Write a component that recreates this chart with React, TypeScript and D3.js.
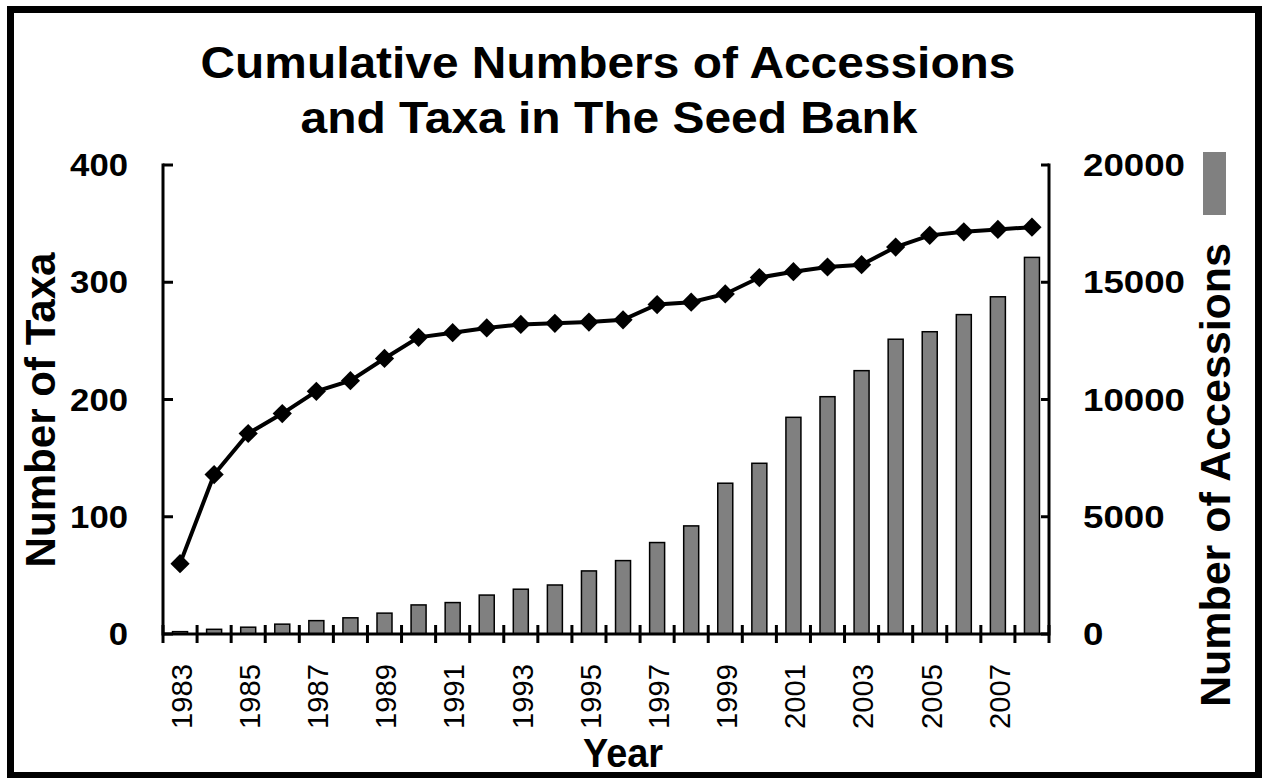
import React from "react";
import * as d3 from "d3";

const years = [
  "1983", "1984", "1985", "1986", "1987", "1988", "1989", "1990", "1991",
  "1992", "1993", "1994", "1995", "1996", "1997", "1998", "1999", "2000",
  "2001", "2002", "2003", "2004", "2005", "2006", "2007", "2008",
];
const taxa = [
  60, 136, 171, 188, 207, 216, 235, 253, 257, 261, 264, 265, 266, 268, 281,
  283, 290, 304, 309, 313, 315, 330, 340, 343, 345, 347,
];
const accessions = [
  100, 200, 290, 420, 570, 690, 890, 1240, 1340, 1660, 1910, 2090, 2690, 3130,
  3900, 4610, 6430, 7280, 9240, 10120, 11230, 12570, 12890, 13620, 14380, 16060,
];
const xTickLabels = [
  "1983", "1985", "1987", "1989", "1991", "1993", "1995", "1997", "1999",
  "2001", "2003", "2005", "2007",
];
const leftTicks = [0, 100, 200, 300, 400];
const rightTicks = [0, 5000, 10000, 15000, 20000];
const titleLines = ["Cumulative Numbers of Accessions", "and Taxa in The Seed Bank"];

const W = 1262;
const H = 778;
const plotLeft = 163;
const plotRight = 1049;
const plotTop = 165;
const plotBottom = 634;
const FONT = "'Liberation Sans', Arial, Helvetica, sans-serif";

export default function App() {
  const x = d3.scaleBand<string>().domain(years).range([plotLeft, plotRight]).padding(0);
  const yL = d3.scaleLinear().domain([0, 400]).range([plotBottom, plotTop]);
  const yR = d3.scaleLinear().domain([0, 20000]).range([plotBottom, plotTop]);
  const bw = x.bandwidth();
  const barW = 15;
  const cx = (i: number) => (x(years[i]) as number) + bw / 2;

  const linePath = d3
    .line<number>()
    .x((_, i) => cx(i))
    .y((d) => yL(d))(taxa) as string;
  const diamond = d3.symbol().type(d3.symbolSquare).size(185)() as string;

  const boundaries = years.map((y) => x(y) as number).concat([plotRight]);

  return (
    <svg
      width={W}
      height={H}
      style={{ position: "absolute", left: 0, top: 0, display: "block", background: "#fff" }}
      fontFamily={FONT}
    >
      <rect x={0} y={0} width={W} height={H} fill="#fff" />
      {/* outer frame */}
      <rect x={10.5} y={9.5} width={1248} height={766} fill="none" stroke="#000" strokeWidth={7} />

      {/* title */}
      <text x={608} y={78} textAnchor="middle" fontSize={45} fontWeight="bold" textLength={815} lengthAdjust="spacingAndGlyphs">
        {titleLines[0]}
      </text>
      <text x={609} y={133} textAnchor="middle" fontSize={45} fontWeight="bold" textLength={617} lengthAdjust="spacingAndGlyphs">
        {titleLines[1]}
      </text>

      {/* bars */}
      {accessions.map((v, i) => (
        <rect
          key={"b" + i}
          x={cx(i) - barW / 2}
          y={yR(v)}
          width={barW}
          height={plotBottom - yR(v)}
          fill="#808080"
          stroke="#000"
          strokeWidth={1.5}
        />
      ))}

      {/* axes */}
      <line x1={plotLeft} x2={plotLeft} y1={plotTop - 1.5} y2={plotBottom + 1.5} stroke="#000" strokeWidth={3} />
      <line x1={plotRight} x2={plotRight} y1={plotTop - 1.5} y2={plotBottom + 1.5} stroke="#000" strokeWidth={3} />
      <line x1={plotLeft} x2={plotRight} y1={plotBottom} y2={plotBottom} stroke="#000" strokeWidth={3} />
      {leftTicks.map((t) => (
        <line key={"lt" + t} x1={plotLeft} x2={plotLeft + 10} y1={yL(t)} y2={yL(t)} stroke="#000" strokeWidth={3} />
      ))}
      {rightTicks.map((t) => (
        <line key={"rt" + t} x1={plotRight - 8} x2={plotRight} y1={yR(t)} y2={yR(t)} stroke="#000" strokeWidth={3} />
      ))}
      {boundaries.map((b, i) => (
        <line key={"xt" + i} x1={b} x2={b} y1={plotBottom - 9} y2={plotBottom + 9} stroke="#000" strokeWidth={3} />
      ))}

      {/* line + markers */}
      <path d={linePath} fill="none" stroke="#000" strokeWidth={4} />
      {taxa.map((v, i) => (
        <path key={"m" + i} d={diamond} transform={`translate(${cx(i)},${yL(v)}) rotate(45)`} fill="#000" />
      ))}

      {/* left tick labels */}
      {leftTicks.map((t) => (
        <text
          key={"ll" + t}
          x={128}
          y={yL(t)}
          dy="0.35em"
          textAnchor="end"
          fontSize={32}
          fontWeight="bold"
          textLength={String(t).length * 19.3}
          lengthAdjust="spacingAndGlyphs"
        >
          {t}
        </text>
      ))}
      {/* right tick labels */}
      {rightTicks.map((t) => (
        <text
          key={"rl" + t}
          x={1083}
          y={yR(t)}
          dy="0.35em"
          textAnchor="start"
          fontSize={32}
          fontWeight="bold"
          textLength={String(t).length * 20.4}
          lengthAdjust="spacingAndGlyphs"
        >
          {t}
        </text>
      ))}
      {/* x tick labels */}
      {years.map((y, i) =>
        xTickLabels.includes(y) ? (
          <text
            key={"xl" + y}
            transform={`translate(${cx(i) + 1},664) rotate(-90)`}
            dy="0.36em"
            textAnchor="end"
            fontSize={30}
            textLength={65}
            lengthAdjust="spacingAndGlyphs"
          >
            {y}
          </text>
        ) : null
      )}

      {/* axis titles */}
      <text transform="translate(55,410) rotate(-90)" textAnchor="middle" fontSize={42} fontWeight="bold" textLength={315} lengthAdjust="spacingAndGlyphs">
        Number of Taxa
      </text>
      <text transform="translate(1230,475) rotate(-90)" textAnchor="middle" fontSize={42} fontWeight="bold" textLength={464} lengthAdjust="spacingAndGlyphs">
        Number of Accessions
      </text>
      <text x={623} y={767} textAnchor="middle" fontSize={40} fontWeight="bold" textLength={80} lengthAdjust="spacingAndGlyphs">
        Year
      </text>

      {/* legend key */}
      <rect x={1203} y={152} width={23} height={63} fill="#808080" />
    </svg>
  );
}
